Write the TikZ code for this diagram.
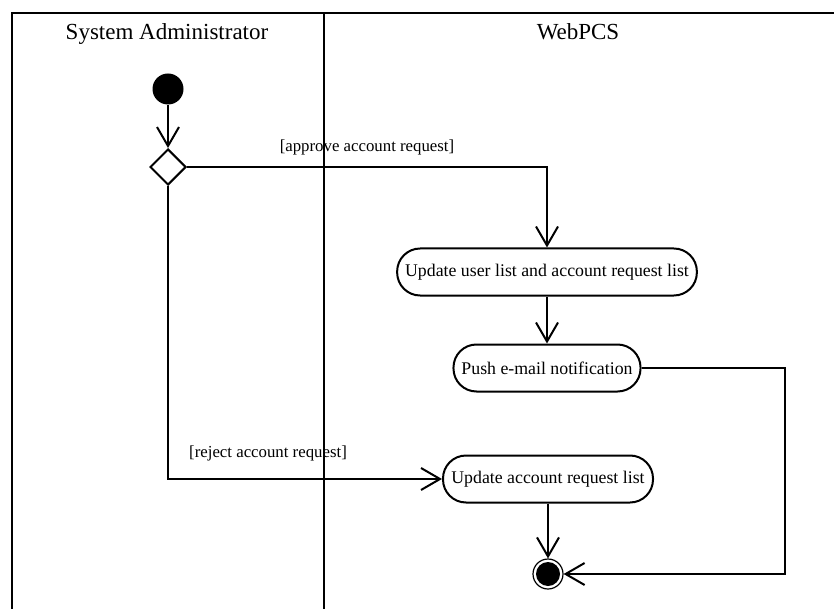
\documentclass[tikz,border=0pt]{standalone}
\usepackage{fontspec}
\setmainfont{Liberation Serif}
\usetikzlibrary{arrows.meta,shapes.geometric}
\begin{document}
\begin{tikzpicture}[x=1pt,y=-1pt,
  line width=2pt,
  flow/.style={-{Straight Barb[length=19pt,width=22pt,line width=2pt]}},
  action/.style={draw,rounded corners=23pt,minimum height=47pt,inner xsep=8pt,
    font=\fontsize{17.8}{20}\selectfont},
  guard/.style={font=\fontsize{16.8}{18}\selectfont},
  lanehead/.style={anchor=base,font=\fontsize{23}{26}\selectfont}]
\useasboundingbox (0,0) rectangle (834,609);

% swimlane frame
\draw (12,609) -- (12,13) -- (834,13);
\draw (323.5,13) -- (323.5,609);
\node[lanehead] (lane1) at (167,40) {System Administrator};
\node[lanehead] (lane2) at (578,40) {WebPCS};

% nodes
\node[circle,fill=black,minimum size=31pt,inner sep=0pt] (start) at (168,89) {};
\node[diamond,draw,minimum width=36pt,minimum height=36pt,inner sep=0pt] (dec) at (168,167) {};
\node[action,minimum width=299pt] (upd) at (547,272) {Update user list and account request list};
\node[action,minimum width=185pt] (push) at (547,368) {Push e-mail notification};
\node[action,minimum width=210pt] (rej) at (548,479) {Update account request list};
\node[circle,draw,line width=1.2pt,minimum size=30pt,inner sep=0pt] (final) at (548,574) {};
\fill (final.center) circle (12pt);
\coordinate (pushturn) at (785,368);

% connectors
\draw[flow] (start) -- (dec.north);
\draw[flow] (dec.east) -| (upd.north);
\draw[flow] (upd) -- (push);
\draw[flow] (dec.south) |- (rej.west);
\draw[flow] (rej) -- (final);
\draw[flow] (push.east) -- (pushturn) |- (final.east);

% guards
\node[guard] (g1) at (367,147) {[approve account request]};
\node[guard] (g2) at (268,453) {[reject account request]};
\end{tikzpicture}
\end{document}
